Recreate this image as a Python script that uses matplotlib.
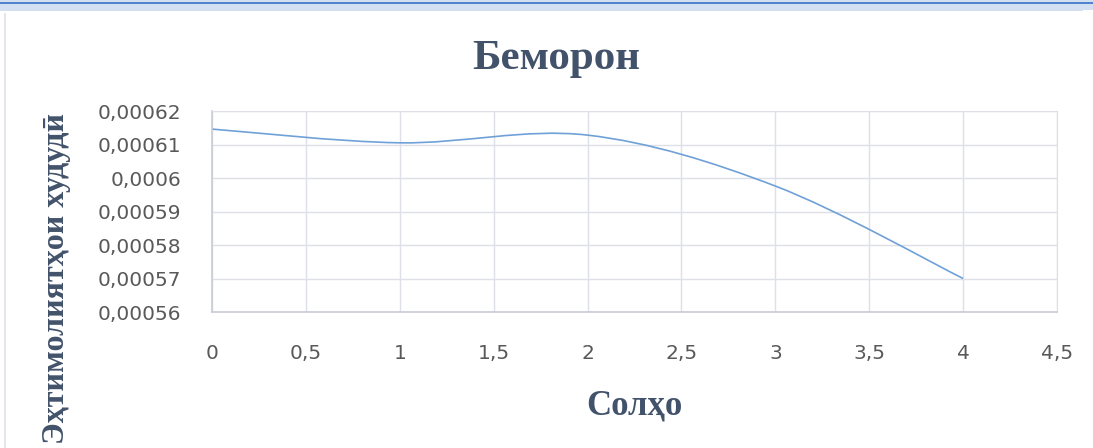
import matplotlib.pyplot as plt
from matplotlib.path import Path
from matplotlib.patches import PathPatch, Rectangle
from matplotlib.ticker import FuncFormatter

years = [0, 1, 2, 3, 4]
probs = [0.0006146, 0.0006105, 0.0006128, 0.0005976, 0.00057]

x_ticks = [0, 0.5, 1, 1.5, 2, 2.5, 3, 3.5, 4, 4.5]
y_ticks = [0.00056, 0.00057, 0.00058, 0.00059, 0.0006, 0.00061, 0.00062]

title = "Беморон"
xlabel = "Солҳо"
ylabel = "Эҳтимолиятҳои худудӣ"

txt_col = "#42526A"
tick_col = "#595959"
grid_col = "#DDE0E6"
line_col = "#6FA1D8"


def smooth_path(xs, ys):
    # excel-style smoothed line: cubic bezier through every point
    pts = list(zip(xs, ys))
    n = len(pts)
    verts = [pts[0]]
    codes = [Path.MOVETO]
    for i in range(n - 1):
        p0 = pts[i - 1] if i > 0 else pts[i]
        p1 = pts[i]
        p2 = pts[i + 1]
        p3 = pts[i + 2] if i + 2 < n else pts[i + 1]
        c1 = (p1[0] + (p2[0] - p0[0]) / 6, p1[1] + (p2[1] - p0[1]) / 6)
        c2 = (p2[0] - (p3[0] - p1[0]) / 6, p2[1] - (p3[1] - p1[1]) / 6)
        verts += [c1, c2, p2]
        codes += [Path.CURVE4] * 3
    return Path(verts, codes)


fig = plt.figure(figsize=(10.93, 4.48), dpi=100)
ax = fig.add_axes([212 / 1093, 1 - 312 / 448, (1057 - 212) / 1093, (312 - 111) / 448])

# window decoration at the top / left
fig.patches.append(Rectangle((0, 1 - 11 / 448), 1, 11 / 448, transform=fig.transFigure,
                             facecolor="#D3E0F1", edgecolor="none"))
fig.patches.append(Rectangle((0, 1 - 4 / 448), 1, 2 / 448, transform=fig.transFigure,
                             facecolor="#4F82CF", edgecolor="none"))
fig.patches.append(Rectangle((1083 / 1093, 1 - 22 / 448), 10 / 1093, 12 / 448,
                             transform=fig.transFigure, facecolor="white", edgecolor="none"))
fig.patches.append(Rectangle((4 / 1093, 0), 2 / 1093, 1 - 13 / 448, transform=fig.transFigure,
                             facecolor="#E3E6EC", edgecolor="none"))

ax.add_patch(PathPatch(smooth_path(years, probs), facecolor="none", edgecolor=line_col,
                       lw=1.2, transform=ax.transData))

ax.set_xlim(0, 4.5)
ax.set_ylim(0.00056, 0.00062)
ax.set_xticks(x_ticks)
ax.set_yticks(y_ticks)
fmt = FuncFormatter(lambda v, p: ("%g" % round(v, 6)).replace(".", ","))
ax.xaxis.set_major_formatter(fmt)
ax.yaxis.set_major_formatter(FuncFormatter(lambda v, p: ("%.5f" % v).rstrip("0").replace(".", ",")))

ax.grid(True, color=grid_col, lw=1)
ax.set_axisbelow(True)
for s in ["top", "right"]:
    ax.spines[s].set_color(grid_col)
for s in ["left", "bottom"]:
    ax.spines[s].set_color("#C8CCD4")
    ax.spines[s].set_linewidth(1.2)
ax.tick_params(length=0, labelsize=14.5, colors=tick_col)
ax.tick_params(axis="x", pad=23)
ax.tick_params(axis="y", pad=22)
for lab in ax.get_xticklabels() + ax.get_yticklabels():
    lab.set_fontfamily("DejaVu Sans")

fig.text(556 / 1093, 1 - 59 / 448, title, ha="center", va="center", fontsize=31,
         fontweight="bold", family="Liberation Serif", color=txt_col)
fig.text(634 / 1093, 1 - 406 / 448, xlabel, ha="center", va="center", fontsize=25,
         fontweight="bold", family="Liberation Serif", color=txt_col)
fig.text(57 / 1093, 1 - 278 / 448, ylabel, ha="center", va="center", rotation=90,
         fontsize=23, fontweight="bold", family="Liberation Serif", color=txt_col)

fig.savefig("out.png", dpi=100)
